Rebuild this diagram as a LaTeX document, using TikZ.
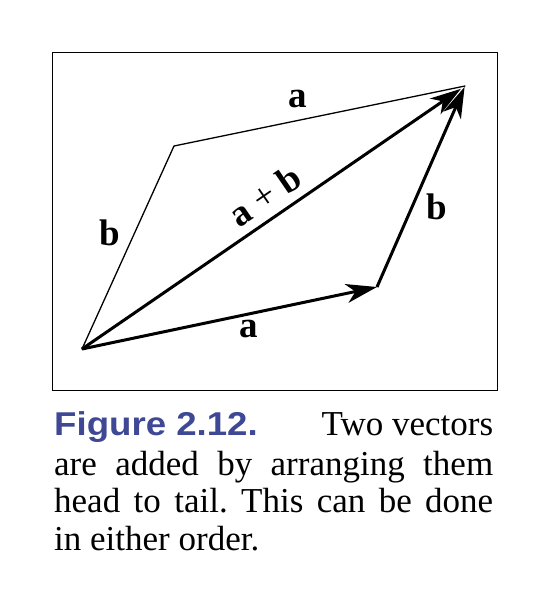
\documentclass[tikz,border=0pt]{standalone}
\usepackage{fontspec}
\setmainfont{Liberation Serif}
\newfontfamily\figfont[FakeStretch=1.11]{Liberation Sans}
\usetikzlibrary{arrows.meta}
\definecolor{figblue}{RGB}{62,72,148}
\frenchspacing
\tikzset{
  vec/.style={line width=3pt, -{Stealth[length=31pt,width=19pt,inset=9pt]}},
  thinline/.style={line width=1.3pt, line cap=round, line join=round},
  lbl/.style={font=\fontsize{37}{37}\selectfont\bfseries, inner sep=0pt},
  capline/.style={anchor=base west, inner sep=0pt, font=\fontsize{35}{38}\selectfont}
}
\begin{document}
\begin{tikzpicture}[x=1pt,y=-1pt]
\useasboundingbox (0,0) rectangle (552,592);
\node[draw, line width=1.4pt, minimum width=445pt, minimum height=338pt, anchor=north west, inner sep=0pt] (frame) at (52,52) {};
\coordinate (O) at (82,349);
\coordinate (A) at (377,287);
\coordinate (B) at (174,146);
\coordinate (C) at (465,86);
\draw[thinline] (O) -- (B) -- (C);
\draw[vec] (O) -- (A);
\draw[vec, shorten >=1pt] (A) -- (C);
\draw[vec, shorten >=5pt] (O) -- (C);
\node[lbl] (la1) at (298,99) {a};
\node[lbl] (lb1) at (110,233) {b};
\node[lbl, rotate=34.5] (lab) at (265,196) {a {\mdseries+} b};
\node[lbl] (lb2) at (437,207) {b};
\node[lbl] (la2) at (249,329) {a};
\node[capline] (c1) at (54,435) {\makebox[439pt][s]{{\figfont\bfseries\color{figblue}\fontsize{33}{33}\selectfont Figure 2.12.}\hfill Two vectors}};
\node[capline] (c2) at (54,475) {\makebox[439pt][s]{are added by arranging them}};
\node[capline] (c3) at (54,512) {\makebox[439pt][s]{head to tail. This can be done}};
\node[capline] (c4) at (54,550) {in either order.};
\end{tikzpicture}
\end{document}
